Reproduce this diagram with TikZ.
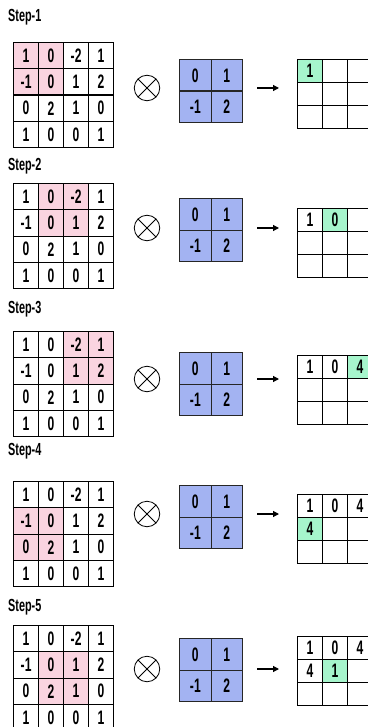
\documentclass[tikz,border=0pt]{standalone}
\usepackage{fontspec}
\newfontfamily\narrowsans[FakeStretch=0.62]{Liberation Sans}
\usetikzlibrary{arrows.meta}
\definecolor{windowpink}{HTML}{FAD4E0}
\definecolor{kernelblue}{HTML}{A3B3F2}
\definecolor{resultgreen}{HTML}{A6F5CC}
\tikzset{
  cell/.style={draw=black, line width=1.2pt, inner sep=0pt, minimum width=25pt,
    minimum height=26.25pt, anchor=north west,
    font=\fontsize{19.5}{19.5}\selectfont\narrowsans\bfseries},
  kcell/.style={cell, draw=black!85, fill=kernelblue, minimum width=31.5pt, minimum height=31.5pt},
  ocell/.style={cell, minimum height=23pt},
  window/.style={fill=windowpink, inner sep=0pt, minimum width=50pt, minimum height=52.5pt, anchor=north west},
  hit/.style={fill=resultgreen, inner sep=0pt, minimum width=25pt, minimum height=23pt, anchor=north west},
  steplabel/.style={anchor=west, inner sep=0pt, font=\fontsize{17.5}{17.5}\selectfont\narrowsans\bfseries},
  otimes/.style={circle, draw=black, line width=0.8pt, minimum size=25.5pt, inner sep=0pt,
    path picture={\draw[line width=0.8pt] (path picture bounding box.north west) -- (path picture bounding box.south east)
      (path picture bounding box.north east) -- (path picture bounding box.south west);}},
  flow/.style={-{Triangle[length=6pt, width=6pt]}, line width=1.2pt, draw=black}
}
\begin{document}
\begin{tikzpicture}[x=1pt, y=-1pt]
  \useasboundingbox[fill=white] (0,0) rectangle (367,727);
  \foreach \s/\ly/\gy/\ky/\oy/\ay/\hr/\hc in {1/17/42/59/59/88/1/1, 2/166/183/198/208/228/1/2,
      3/309/331/352/355/379/1/3, 4/451/481/485/494/514/2/1, 5/607/625/638/636/669/2/2} {
    \node[steplabel] (label\s) at (8,\ly) {Step-\s};
    % input with the sliding window
    \node[window] (win\s) at ({13+(\hc-1)*25},{\gy+(\hr-1)*26.25}) {};
    \foreach \row [count=\r] in {{1,0,-2,1},{-1,0,1,2},{0,2,1,0},{1,0,0,1}}
      \foreach \v [count=\c] in \row
        \node[cell] (in\s-\r-\c) at ({13+(\c-1)*25},{\gy+(\r-1)*26.25}) {\v};
    \node[otimes] (op\s) at (147,\ay) {};
    % kernel
    \foreach \row [count=\r] in {{0,1},{-1,2}}
      \foreach \v [count=\c] in \row
        \node[kcell] (k\s-\r-\c) at ({179+(\c-1)*31.5},{\ky+(\r-1)*31.5}) {\v};
    \coordinate (from\s) at (257,\ay);
    \coordinate (to\s) at (279,\ay);
    \draw[flow] (from\s) -- (to\s);
    % output map
    \pgfmathtruncatemacro\gr{div(\s-1,3)}
    \pgfmathtruncatemacro\gc{mod(\s-1,3)}
    \node[hit] (new\s) at ({297+\gc*25},{\oy+\gr*23}) {};
    \foreach \i in {1,...,9} {
      \pgfmathtruncatemacro\orow{div(\i-1,3)}
      \pgfmathtruncatemacro\ocol{mod(\i-1,3)}
      \pgfmathtruncatemacro\oval{{1,0,4,4,1,0,0,0,0}[\i-1]}
      \ifnum\i>\s\def\otext{}\else\let\otext\oval\fi
      \node[ocell] (out\s-\i) at ({297+\ocol*25},{\oy+\orow*23}) {\otext};
    }
  }
\end{tikzpicture}
\end{document}
